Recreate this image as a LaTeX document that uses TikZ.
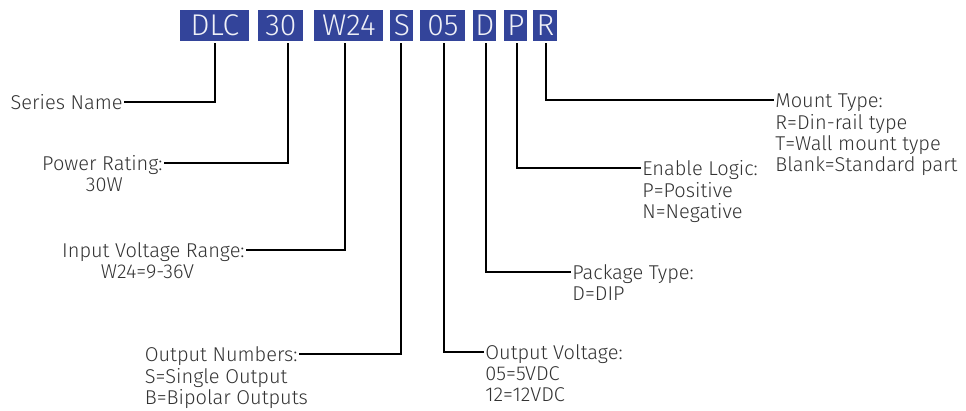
\documentclass[tikz,border=0pt]{standalone}
\usepackage{fontspec}
\setmainfont{Fira Sans}[UprightFont=* Light]
\usetikzlibrary{positioning}
\definecolor{codeblue}{HTML}{33449A}
\definecolor{txtgray}{HTML}{333333}

\begin{document}
\begin{tikzpicture}[x=1pt, y=-1pt, thick,
  code/.style={fill=codeblue, text=white!92!codeblue, inner xsep=0pt,
    minimum height=31pt, anchor=west, font=\fontsize{30}{32}\selectfont},
  lbl/.style={text=txtgray, inner xsep=1pt, inner ysep=0pt,
    font=\fontsize{20}{21}\selectfont},
  head/.style={lbl, text height=17pt, text depth=3pt},
  lead/.style={line width=2pt, black}]
  \useasboundingbox (0,0) rectangle (966,410);

  % Kodierung oben
  \node[code, minimum width=69pt] (dlc) at (180,25.5) {DLC};
  \node[code, minimum width=45pt] (pw)  at (258,25.5) {30};
  \node[code, minimum width=69pt] (vin) at (314,25.5) {W24};
  \node[code, minimum width=23pt] (num) at (390,25.5) {S};
  \node[code, minimum width=45pt] (vout) at (420,25.5) {05};
  \node[code, minimum width=23pt] (pkg) at (473,25.5) {D};
  \node[code, minimum width=23pt] (en)  at (504,25.5) {P};
  \node[code, minimum width=24pt] (mnt) at (533,25.5) {R};

  % Beschriftungen links
  \node[head, anchor=east] (series) at (124,102) {Series Name};
  \node[head, anchor=east] (power) at (164,163) {Power Rating:};
  \node[lbl, anchor=north] (powerd) at ([xshift=2pt, yshift=-4pt]power.south) {30W};
  \node[head, anchor=east] (input) at (246,250) {Input Voltage Range:};
  \node[lbl, anchor=north] (inputd) at ([xshift=-6pt, yshift=-4pt]input.south) {W24=9-36V};
  \node[head, anchor=east] (outn) at (299,354) {Output Numbers:};
  \node[lbl, anchor=north west, align=left] (outnd) at ([yshift=-4pt]outn.south west)
    {S=Single Output\\B=Bipolar Outputs};

  % Beschriftungen rechts
  \node[head, anchor=west] (outv) at (484,352) {Output Voltage:};
  \node[lbl, anchor=north west, align=left] (outvd) at ([yshift=-4pt]outv.south west)
    {05=5VDC\\12=12VDC};
  \node[head, anchor=west] (pack) at (571,272) {Package Type:};
  \node[lbl, anchor=north west] (packd) at ([yshift=-4pt]pack.south west) {D=DIP};
  \node[head, anchor=west] (enab) at (641,168) {Enable Logic:};
  \node[lbl, anchor=north west, align=left] (enabd) at ([yshift=-4pt]enab.south west)
    {P=Positive\\N=Negative};
  \node[head, anchor=west] (mount) at (774,100) {Mount Type:};
  \node[lbl, anchor=north west, align=left] (mountd) at ([yshift=-4pt]mount.south west)
    {R=Din-rail type\\T=Wall mount type\\Blank=Standard part};

  % Fuehrungslinien
  \draw[lead] ([yshift=-2pt]dlc.south) |- (series);
  \draw[lead] ([xshift=7pt, yshift=-2pt]pw.south) |- (power);
  \draw[lead] ([xshift=-4pt, yshift=-2pt]vin.south) |- (input);
  \draw[lead] ([xshift=-1pt, yshift=-2pt]num.south) |- (outn);
  \draw[lead] ([xshift=1pt, yshift=-2pt]vout.south) |- (outv);
  \draw[lead] ([xshift=1pt, yshift=-2pt]pkg.south) |- (pack);
  \draw[lead] ([xshift=1pt, yshift=-2pt]en.south) |- (enab);
  \draw[lead] ([xshift=1pt, yshift=-2pt]mnt.south) |- (mount);
\end{tikzpicture}
\end{document}
